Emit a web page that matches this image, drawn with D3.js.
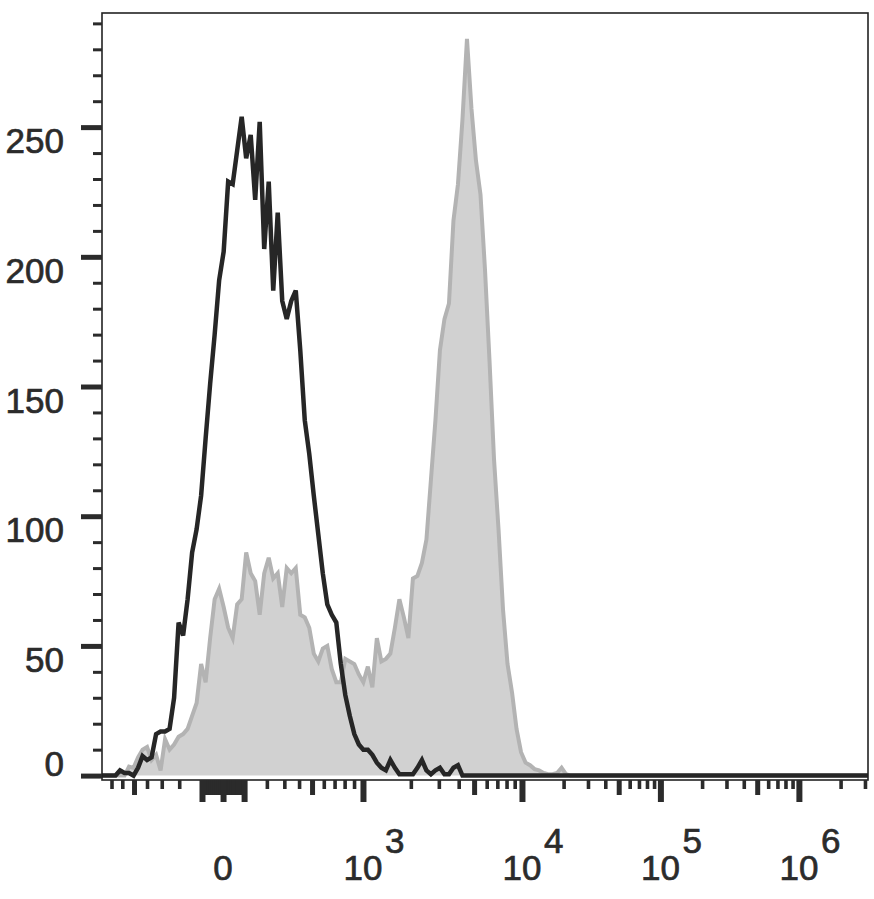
<!DOCTYPE html>
<html>
<head>
<meta charset="utf-8">
<script src="https://cdn.jsdelivr.net/npm/d3@7"></script>
<style>
body { margin: 0; background: #fff; }
text { font-family: "Liberation Sans", Arial, sans-serif; fill: #2b2b2b; stroke: #2b2b2b; stroke-width: 0.7px; }
</style>
</head>
<body>
<div id="chart"></div>
<script>
// histogram counts, one value per 6-channel bin (channel 0 = left edge of the plot)
const binStep = 6;
const channelMax = 1020;

// isotype control (black line)
const isotypeCounts = [
	0, 0, 0, 0, 2, 1, 1, 0, 3, 7.5,
	6, 7, 16, 17, 17, 18, 30, 59, 54, 68,
	86, 95, 108, 130, 151, 170, 191, 202, 229, 228,
	241, 254, 238, 247, 222, 252, 203, 229, 187, 217,
	183, 176, 183, 187, 164, 137, 124, 108, 93, 78,
	66, 62, 59, 43, 31, 23, 16, 12, 10, 10,
	8, 5, 3, 2, 6, 3, 0.5, 0.5, 0.5, 0.5,
	3, 6, 2, 0.5, 2, 3, 0.5, 0.5, 3, 4, 0
];

// stained sample (grey filled)
const stainedCounts = [
	0, 0, 0, 0, 0, 0, 3.5, 3, 7, 10,
	11, 6, 8, 2, 14, 10, 12, 15, 16, 18,
	23, 28, 43, 36, 53, 68, 72, 65, 57, 53,
	66, 68, 86, 78, 75, 62, 78, 84, 76, 78,
	65, 80, 78, 80, 62, 61, 57, 47, 44, 49,
	50, 41, 36, 36, 45, 44, 43, 39, 36, 42,
	34, 53, 44, 45, 47, 57, 68, 61, 53, 76,
	77, 82, 91, 114, 137, 164, 176, 182, 214, 228,
	253, 284, 257, 237, 224, 195, 160, 122, 95, 64,
	43, 32, 18, 9, 5, 4, 2.5, 2, 1, 0.5,
	0.5, 1, 3, 0.5, 0
];

const yMajorTicks = [0, 50, 100, 150, 200, 250];
const yMinorTicks = [10, 20, 30, 40, 60, 70, 80, 90, 110, 120, 130, 140, 160, 170, 180, 190,
	210, 220, 230, 240, 260, 270, 280, 290];

const xMajorTicks = [-100, 0, 100, 1e3, 1e4, 1e5, 1e6];
const xMidTicks = [-500, -90, -80, -70, -60, -50, -40, -30, -20, -10,
	10, 20, 30, 40, 50, 60, 70, 80, 90, 500, 5e3, 5e4, 5e5];
const xMinorTicks = [-800, -700, -600, -400, -300, -200, 200, 300, 400, 600, 700, 800, 900,
	2e3, 3e3, 4e3, 6e3, 7e3, 8e3, 9e3,
	2e4, 3e4, 4e4, 6e4, 7e4, 8e4, 9e4,
	2e5, 3e5, 4e5, 6e5, 7e5, 8e5, 9e5,
	2e6, 3e6];
const xLabels = [
	{ value: 0, base: "0", exp: "" },
	{ value: 1e3, base: "10", exp: "3" },
	{ value: 1e4, base: "10", exp: "4" },
	{ value: 1e5, base: "10", exp: "5" },
	{ value: 1e6, base: "10", exp: "6" }
];

const svgWidth = 874;
const svgHeight = 899;
const margin = { top: 13, right: 6, bottom: 119, left: 102 };
const ink = "#2b2b2b";

// biexponential-style display transform (linear near zero, log above)
const uMin = -0.874, uMax = 4.657;
function biex(v) {
	let a = Math.abs(v), u;
	if (a <= 100) u = a * 0.00152;
	else if (a <= 1000) u = 0.0397 * Math.sqrt(a) - 0.245;
	else if (a <= 1e4) u = 1.0104 + 1.148 * Math.log10(a / 1000);
	else u = 2.158 + Math.log10(a / 1e4);
	return Math.sign(v) * u;
}
function toChannel(v) {
	return (biex(v) - uMin) / (uMax - uMin) * channelMax;
}

let svg = d3.select("#chart")
	.append("svg")
	.attr("width", svgWidth)
	.attr("height", svgHeight);

let x = d3.scaleLinear()
	.domain([0, channelMax])
	.range([margin.left, svgWidth - margin.right]);

let y = d3.scaleLinear()
	.domain([-1.7, 294])
	.range([svgHeight - margin.bottom, margin.top]);

function toPoints(counts) {
	let pts = counts.map((n, i) => ({ ch: i * binStep, n: n }));
	pts.push({ ch: channelMax, n: 0 });
	return pts;
}

let stained = toPoints(stainedCounts);
let isotype = toPoints(isotypeCounts);

svg.append("path")
	.datum(stained)
	.attr("fill", "#d1d1d1")
	.attr("d", d3.area().x(d => x(d.ch)).y0(y(0)).y1(d => y(d.n)));

svg.append("path")
	.datum(stained)
	.attr("fill", "none")
	.attr("stroke", "#b3b3b3")
	.attr("stroke-width", 4)
	.attr("d", d3.line().x(d => x(d.ch)).y(d => y(d.n)));

svg.append("path")
	.datum(isotype)
	.attr("fill", "none")
	.attr("stroke", "#262626")
	.attr("stroke-width", 4.5)
	.attr("stroke-linejoin", "miter")
	.attr("d", d3.line().x(d => x(d.ch)).y(d => y(d.n)));

// frame
svg.append("rect")
	.attr("x", x(0))
	.attr("y", y(294))
	.attr("width", x(channelMax) - x(0))
	.attr("height", y(-1.7) - y(294))
	.attr("fill", "none")
	.attr("stroke", "#222")
	.attr("stroke-width", 1.6);

function styleTicks(g, w) {
	g.select(".domain").remove();
	g.selectAll(".tick line").attr("stroke", ink).attr("stroke-width", w);
}

// y axis ticks
svg.append("g")
	.attr("transform", `translate(${margin.left}, 0)`)
	.call(d3.axisLeft(y).tickValues(yMinorTicks).tickSize(9).tickFormat(""))
	.call(g => styleTicks(g, 3));
svg.append("g")
	.attr("transform", `translate(${margin.left}, 0)`)
	.call(d3.axisLeft(y).tickValues(yMajorTicks).tickSize(21).tickFormat(""))
	.call(g => styleTicks(g, 5));

svg.selectAll(".ylab")
	.data(yMajorTicks)
	.enter()
	.append("text")
	.attr("class", "ylab")
	.attr("x", 64)
	.attr("y", d => y(d) + (d === 0 ? 0 : 26))
	.attr("text-anchor", "end")
	.attr("font-size", "35px")
	.text(d => d);

// x axis ticks
let inDomain = v => toChannel(v) >= 0 && toChannel(v) <= channelMax;
let xBase = svgHeight - margin.bottom;
[[xMinorTicks, 9, 3.6], [xMidTicks, 15, 5], [xMajorTicks, 22, 6]].forEach(function(t) {
	svg.append("g")
		.attr("transform", `translate(0, ${xBase})`)
		.call(d3.axisBottom(x).tickValues(t[0].filter(inDomain).map(toChannel)).tickSize(t[1]).tickFormat(""))
		.call(g => styleTicks(g, t[2]));
});

let xl = svg.selectAll(".xlab")
	.data(xLabels)
	.enter()
	.append("g")
	.attr("class", "xlab");

xl.append("text")
	.attr("x", d => x(toChannel(d.value)))
	.attr("y", 880)
	.attr("text-anchor", "middle")
	.attr("font-size", "35px")
	.text(d => d.base);

xl.append("text")
	.attr("x", d => x(toChannel(d.value)) + 22)
	.attr("y", 853)
	.attr("font-size", "35px")
	.text(d => d.exp);
</script>
</body>
</html>
